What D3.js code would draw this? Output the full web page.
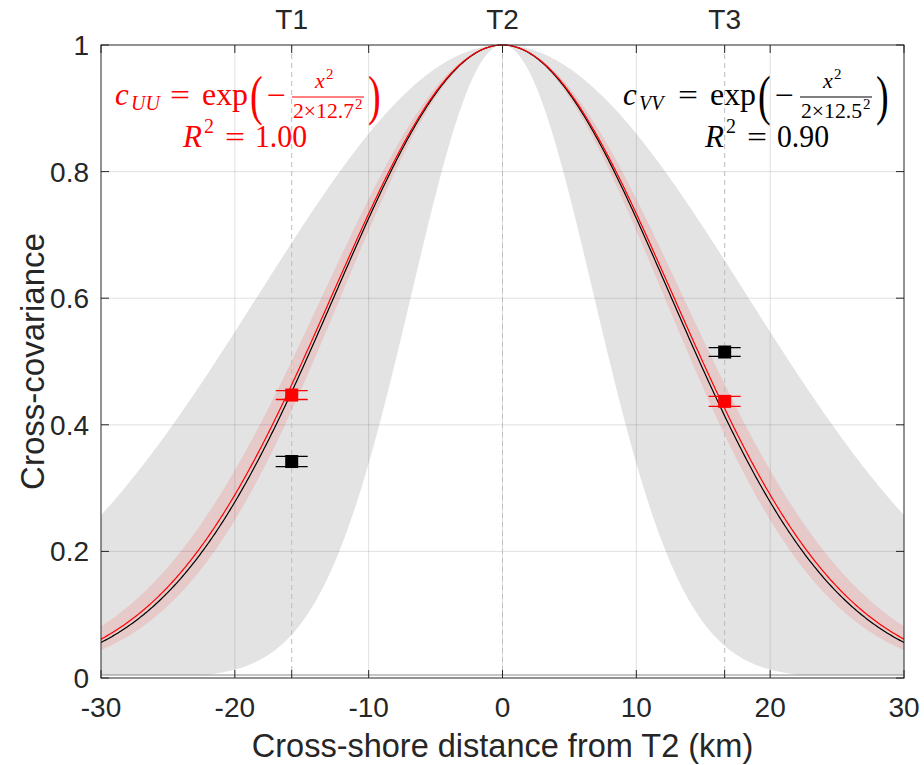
<!DOCTYPE html>
<html><head><meta charset="utf-8">
<script src="https://cdn.jsdelivr.net/npm/d3@7"></script>
<style>body{margin:0;background:#fff}</style></head>
<body><svg id="c" width="924" height="765"></svg>
<script>
// ---------------- data ----------------
const xTicks = [-30, -20, -10, 0, 10, 20, 30];
const xTickLabels = ["-30", "-20", "-10", "0", "10", "20", "30"];
const yTicks = [0, 0.2, 0.4, 0.6, 0.8, 1];
const yTickLabels = ["0", "0.2", "0.4", "0.6", "0.8", "1"];
const stations = ["T1", "T2", "T3"];
const stationX = [-15.75, 0, 16.6];
// Gaussian fits (length scales, km) as written in the chart
const sigmaU = 12.7;          // red fit c_UU
const sigmaV = 12.5;          // black fit c_VV
const sigmaUBand = [12.0, 13.4];  // red confidence band
const sigmaVBand = [6.8, 18.2];   // grey confidence band
const r2Labels = ["1.00", "0.90"];
// observed cross-covariances at T1 and T3
const obsX = [-15.75, 16.6];
const obsU = [0.447, 0.437];
const obsUErr = [0.007, 0.008];
const obsV = [0.342, 0.515];
const obsVErr = [0.008, 0.007];

// ---------------- layout ----------------
const svg = d3.select("#c");
const L = 101, R = 904, T = 45, B = 678;
const x = d3.scaleLinear().domain([-30, 30]).range([L, R]);
const y = d3.scaleLinear().domain([0, 1]).range([B, T]);
const axisCol = "#262626";
const sans = "'Liberation Sans', Arial, Helvetica, sans-serif";
const serif = "'Liberation Serif', 'Times New Roman', serif";

const xs = d3.range(-30, 30.0001, 0.1);
const g = s => (xx => Math.exp(-xx * xx / (2 * s * s)));

svg.append("defs").append("clipPath").attr("id", "clip")
  .append("rect").attr("x", L).attr("y", T).attr("width", R - L).attr("height", B - T - 3);

const plot = svg.append("g").attr("clip-path", "url(#clip)");

// grey band (c_VV confidence)
const bandArea = (lo, hi) => d3.area()
  .x(d => x(d)).y0(d => y(g(lo)(d))).y1(d => y(g(hi)(d)));
plot.append("path").datum(xs)
  .attr("d", bandArea(sigmaVBand[0], sigmaVBand[1]))
  .attr("fill", "#e3e3e3");
// red band (c_UU confidence)
plot.append("path").datum(xs)
  .attr("d", bandArea(sigmaUBand[0], sigmaUBand[1]))
  .attr("fill", "#ff0000").attr("fill-opacity", 0.11);

// grid
const grid = svg.append("g");
grid.selectAll(".gx").data(xTicks.slice(1, -1)).join("line")
  .attr("x1", d => x(d)).attr("x2", d => x(d)).attr("y1", T).attr("y2", B)
  .attr("stroke", "#000").attr("stroke-opacity", 0.12).attr("stroke-width", 1);
grid.selectAll(".gy").data(yTicks.slice(1, -1)).join("line")
  .attr("x1", L).attr("x2", R).attr("y1", d => y(d)).attr("y2", d => y(d))
  .attr("stroke", "#000").attr("stroke-opacity", 0.12).attr("stroke-width", 1);

// station dashed lines
svg.append("g").selectAll("line").data(stationX).join("line")
  .attr("x1", d => x(d)).attr("x2", d => x(d)).attr("y1", T).attr("y2", B)
  .attr("stroke", "#bdbdbd").attr("stroke-width", 1).attr("stroke-dasharray", "5,4");

// fit curves
const line = s => d3.line().x(d => x(d)).y(d => y(g(s)(d)));
svg.append("path").datum(xs).attr("d", line(sigmaV))
  .attr("fill", "none").attr("stroke", "#000").attr("stroke-width", 1.2);
svg.append("path").datum(xs).attr("d", line(sigmaU))
  .attr("fill", "none").attr("stroke", "#ff0000").attr("stroke-width", 1.2);

// observations with error bars
function obs(vals, errs, col) {
  const gg = svg.append("g");
  const capW = 16;
  obsX.forEach((xv, i) => {
    const cx = x(xv);
    [vals[i] - errs[i], vals[i] + errs[i]].forEach(v => {
      gg.append("line").attr("x1", cx - capW).attr("x2", cx + capW)
        .attr("y1", y(v)).attr("y2", y(v)).attr("stroke", col).attr("stroke-width", 1.3);
    });
    gg.append("line").attr("x1", cx).attr("x2", cx)
      .attr("y1", y(vals[i] - errs[i])).attr("y2", y(vals[i] + errs[i]))
      .attr("stroke", col).attr("stroke-width", 1.3);
    gg.append("rect").attr("x", cx - 6.5).attr("y", y(vals[i]) - 6.5)
      .attr("width", 13).attr("height", 13).attr("fill", col);
  });
}
obs(obsV, obsVErr, "#000");
obs(obsU, obsUErr, "#ff0000");

// ---------------- axes ----------------
const ax = svg.append("g");
ax.append("rect").attr("x", L).attr("y", T).attr("width", R - L).attr("height", B - T)
  .attr("fill", "none").attr("stroke", axisCol).attr("stroke-width", 1);
ax.append("line").attr("x1", L).attr("x2", R).attr("y1", B - 3).attr("y2", B - 3)
  .attr("stroke", "#8a8a8a").attr("stroke-width", 1);
const tl = 8;
xTicks.forEach(t => {
  ax.append("line").attr("x1", x(t)).attr("x2", x(t)).attr("y1", B).attr("y2", B - tl).attr("stroke", axisCol);
  ax.append("line").attr("x1", x(t)).attr("x2", x(t)).attr("y1", T).attr("y2", T + tl).attr("stroke", axisCol);
});
stationX.forEach(t => {
  ax.append("line").attr("x1", x(t)).attr("x2", x(t)).attr("y1", B).attr("y2", B - tl).attr("stroke", axisCol);
  ax.append("line").attr("x1", x(t)).attr("x2", x(t)).attr("y1", T).attr("y2", T + tl).attr("stroke", axisCol);
});
yTicks.forEach(t => {
  ax.append("line").attr("x1", L).attr("x2", L + tl).attr("y1", y(t)).attr("y2", y(t)).attr("stroke", axisCol);
  ax.append("line").attr("x1", R).attr("x2", R - tl).attr("y1", y(t)).attr("y2", y(t)).attr("stroke", axisCol);
});
ax.selectAll(".xt").data(xTicks).join("text")
  .attr("x", d => x(d)).attr("y", B + 39).attr("text-anchor", "middle")
  .attr("font-family", sans).attr("font-size", 28).attr("fill", axisCol)
  .text((d, i) => xTickLabels[i]);
ax.selectAll(".yt").data(yTicks).join("text")
  .attr("x", L - 12).attr("y", d => y(d) + 10).attr("text-anchor", "end")
  .attr("font-family", sans).attr("font-size", 28).attr("fill", axisCol)
  .text((d, i) => yTickLabels[i]);
ax.selectAll(".st").data(stations).join("text")
  .attr("x", (d, i) => x(stationX[i])).attr("y", 29).attr("text-anchor", "middle")
  .attr("font-family", sans).attr("font-size", 28).attr("fill", axisCol)
  .text(d => d);
ax.append("text").attr("x", (L + R) / 2).attr("y", 757).attr("text-anchor", "middle")
  .attr("font-family", sans).attr("font-size", 32.5).attr("fill", axisCol)
  .text("Cross-shore distance from T2 (km)");
ax.append("text").attr("transform", `translate(44,${(T + B) / 2}) rotate(-90)`)
  .attr("text-anchor", "middle")
  .attr("font-family", sans).attr("font-size", 33).attr("fill", axisCol)
  .text("Cross-covariance");

// ---------------- formula annotations ----------------
function formula(ox, sub, sig, r2, col, rx) {
  const f = svg.append("g").attr("fill", col).attr("font-family", serif);
  const by = 105;
  const t = (txt, xx, yy, size, italic, len) => {
    const e = f.append("text").attr("x", xx).attr("y", yy).attr("font-size", size)
      .attr("font-style", italic ? "italic" : "normal").text(txt);
    if (len) e.attr("textLength", len).attr("lengthAdjust", "spacingAndGlyphs");
    return e;
  };
  const paren = (txt, xx) => f.append("text")
    .attr("transform", `translate(${xx},${by + 9}) scale(1,1.45)`)
    .attr("font-size", 38).text(txt);
  t("c", ox, by, 31, true);
  t(sub, ox + 16, by + 5, 20, true);
  t("=", ox + 55, by, 30, false, 20);
  t("exp", ox + 87, by, 31, false, 46);
  paren("(", ox + 135);
  t("\u2212", ox + 152, by, 30, false, 19);
  t("x", ox + 200, by - 17, 22, true);
  t("2", ox + 211, by - 26, 15, false);
  f.append("line").attr("x1", ox + 177).attr("x2", ox + 249)
    .attr("y1", by - 8).attr("y2", by - 8).attr("stroke", col).attr("stroke-width", 1);
  t("2\u00d7" + sig, ox + 178, by + 13, 22, false, 61);
  t("2", ox + 240, by + 4, 15, false);
  paren(")", ox + 253);
  // R^2 line
  t("R", rx, 147, 31, true);
  t("2", rx + 21, 133, 20, false);
  t("=", rx + 42, 147, 30, false, 20);
  t(r2, rx + 72, 147, 31, false, 52);
}
formula(115, "UU", sigmaU, r2Labels[0], "#ff0000", 183);
formula(623, "VV", sigmaV, r2Labels[1], "#000000", 705);
</script></body></html>
